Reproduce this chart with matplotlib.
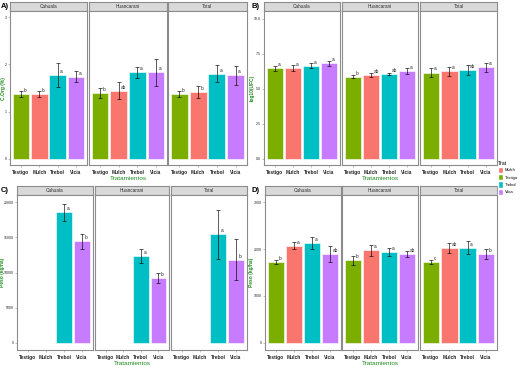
import numpy as np
import matplotlib
matplotlib.use("Agg")
import matplotlib.pyplot as plt
from matplotlib.patches import Patch

plt.rcParams["font.family"] = ["Liberation Sans", "DejaVu Sans"]

# ---------------- data ----------------
treatments = ["Testigo", "Mulch", "Trebol", "Vicia"]
sites = ["Cahuala", "Huancarani", "Total"]
bar_colors = ["#7CAE00", "#F8766D", "#00BFC4", "#C77CFF"]
legend_order = ["Mulch", "Testigo", "Trebol", "Vicia"]

# A) C.Org (%)  -> rows = sites, cols = treatments
corg_mean = [[1.37, 1.37, 1.77, 1.74],
             [1.39, 1.44, 1.83, 1.83],
             [1.37, 1.41, 1.80, 1.77]]
corg_err = [[0.07, 0.07, 0.25, 0.12],
            [0.10, 0.18, 0.12, 0.28],
            [0.07, 0.13, 0.18, 0.20]]
corg_lab = [["b", "b", "a", "a"],
            ["b", "ab", "a", "a"],
            ["b", "b", "a", "a"]]

# B) log10(UFC)
ufc_mean = [[6.48, 6.48, 6.66, 6.83],
            [5.88, 6.00, 6.07, 6.29],
            [6.17, 6.26, 6.38, 6.55]]
ufc_err = [[0.19, 0.20, 0.16, 0.20],
           [0.10, 0.12, 0.10, 0.20],
           [0.35, 0.30, 0.35, 0.33]]
ufc_lab = [["a", "a", "a", "a"],
           ["b", "ab", "ab", "a"],
           ["a", "a", "ab", "a"]]

# C) Peso (kg/ha)  (no biomass for Testigo / Mulch)
pesoC_mean = [[np.nan, np.nan, 18540, 14425],
              [np.nan, np.nan, 12340, 9220],
              [np.nan, np.nan, 15420, 11820]]
pesoC_err = [[np.nan, np.nan, 1240, 1060],
             [np.nan, np.nan, 1010, 750],
             [np.nan, np.nan, 3480, 2900]]
pesoC_lab = [["", "", "a", "b"],
             ["", "", "a", "b"],
             ["", "", "a", "b"]]

# D) Peso (kg/ha)
pesoD_mean = [[1717, 2070, 2121, 1894],
              [1760, 1972, 1936, 1894],
              [1730, 2021, 2028, 1894]]
pesoD_err = [[45, 75, 130, 160],
             [95, 120, 80, 60],
             [45, 100, 140, 110]]
pesoD_lab = [["b", "a", "a", "ab"],
             ["b", "a", "a", "ab"],
             ["c", "ab", "a", "b"]]

# ---------------- layout ----------------
W, H = 521, 367
fig = plt.figure(figsize=(W / 100, H / 100), dpi=100)
fig.patch.set_facecolor("white")

GREEN = "#1E8B1E"
EDGE = "#8C8C8C"
STRIP = "#D9D9D9"


def px_axes(x0, x1, y0, y1):
    return fig.add_axes([x0 / W, 1 - y1 / H, (x1 - x0) / W, (y1 - y0) / H])


def draw_panel(letter, lx, ylab_x, facets_x, strip_top, panel_top, panel_bottom,
               means, errs, labs, ylim, yticks, yticklabels, ylabel):
    fig.text(lx / W, 1 - (strip_top + 4) / H, letter, fontsize=5.5,
             fontweight="bold", ha="left", va="center")
    fig.text(ylab_x / W, 1 - ((panel_top + panel_bottom) / 2) / H, ylabel,
             rotation=90, fontsize=3.5, fontweight="bold", color=GREEN,
             ha="center", va="center")
    for j, (x0, x1) in enumerate(facets_x):
        # strip
        sax = px_axes(x0, x1, strip_top, panel_top)
        sax.set_facecolor(STRIP)
        sax.set_xticks([])
        sax.set_yticks([])
        for s in sax.spines.values():
            s.set_color(EDGE)
            s.set_linewidth(0.8)
        sax.text(0.5, 0.5, sites[j], fontsize=3.4, ha="center", va="center",
                 color="#333333", transform=sax.transAxes)
        # panel
        ax = px_axes(x0, x1, panel_top, panel_bottom)
        ax.set_facecolor("white")
        xs = np.arange(len(treatments))
        for i in xs:
            m = means[j][i]
            if np.isnan(m):
                continue
            ax.bar(i, m, width=0.9, color=bar_colors[i], edgecolor="white",
                   linewidth=0.4, zorder=2)
            ax.errorbar(i, m, yerr=errs[j][i], fmt="none", ecolor="black",
                        elinewidth=0.45, capsize=1.3, capthick=0.45, zorder=3)
            ax.annotate(labs[j][i], (i, m), xytext=(1.8, 2.6),
                        textcoords="offset points", fontsize=3.4,
                        ha="left", va="center", color="#222222", zorder=4)
        ax.set_xlim(-0.6, 3.6)
        ax.set_ylim(*ylim)
        ax.set_xticks(xs)
        ax.set_xticklabels(treatments, fontsize=3.5, fontweight="bold",
                           color="#222222")
        ax.tick_params(axis="x", length=1.5, width=0.4, color=EDGE, pad=2.2)
        if j == 0:
            ax.set_yticks(yticks)
            ax.set_yticklabels(yticklabels, fontsize=2.5, color="#222222")
            ax.tick_params(axis="y", length=1.5, width=0.4, color=EDGE, pad=0.8)
        else:
            ax.set_yticks([])
        if j == 1:
            ax.set_xlabel("Tratamientos", fontsize=4.6, color=GREEN, labelpad=0.3)
        for s in ax.spines.values():
            s.set_color(EDGE)
            s.set_linewidth(0.8)


draw_panel("A)", 1, 3.5, [(10, 87), (89, 167), (168, 247)], 2, 11, 165,
           corg_mean, corg_err, corg_lab, (-0.13, 3.13),
           [0, 1, 2, 3], ["0", "1", "2", "3"], "C.Org (%)")

draw_panel("B)", 252, 252, [(264, 340), (342, 418), (420, 497)], 2, 11, 165,
           ufc_mean, ufc_err, ufc_lab, (-0.43, 10.57),
           [0, 2.5, 5, 7.5, 10], ["0.0", "2.5", "5.0", "7.5", "10.0"],
           "log10(UFC)")

draw_panel("C)", 1, 2.2, [(17, 93), (95, 169), (171, 247)], 186, 195, 350,
           pesoC_mean, pesoC_err, pesoC_lab, (-1000, 21000),
           [0, 5000, 10000, 15000, 20000],
           ["0", "5000", "10000", "15000", "20000"], "Peso (kg/ha)")

draw_panel("D)", 252, 252, [(265, 341), (342, 418), (420, 497)], 186, 195, 350,
           pesoD_mean, pesoD_err, pesoD_lab, (-150, 3150),
           [0, 1000, 2000, 3000], ["0", "1000", "2000", "3000"],
           "Peso (kg/ha)")

# legend
handles = [Patch(facecolor=bar_colors[treatments.index(t)], edgecolor="white")
           for t in legend_order]
leg = fig.legend(handles, legend_order, title="Trat", loc="upper left",
                 bbox_to_anchor=(495 / W, 1 - 158 / H), frameon=False,
                 fontsize=3.0, title_fontsize=3.8, handlelength=1.3,
                 handleheight=1.9, labelspacing=0.25, handletextpad=0.4,
                 borderpad=0.2, alignment="left")

fig.savefig("out.png", dpi=100, facecolor="white")
